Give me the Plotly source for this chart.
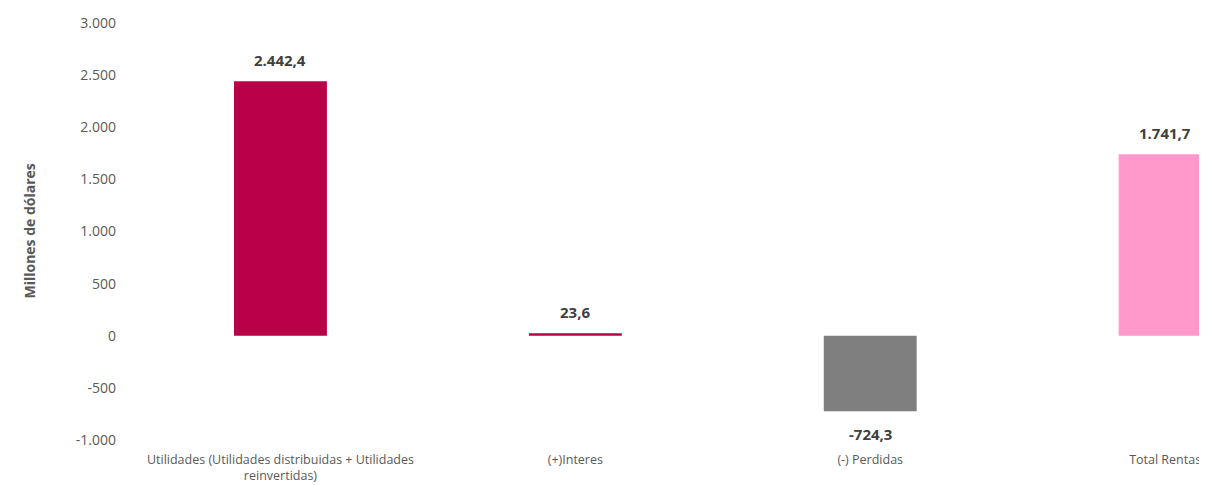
import plotly.graph_objects as go

categories = ["Utilidades (Utilidades distribuidas + Utilidades<br>reinvertidas)",
              "(+)Interes", "(-) Perdidas", "Total Rentas"]
values = [2442.4, 23.6, -724.3, 1741.7]
value_labels = ["2.442,4", "23,6", "-724,3", "1.741,7"]
colors = ["#BA0047", "#BA0047", "#7F7F7F", "#FF99CC"]
y_ticks = [-1000, -500, 0, 500, 1000, 1500, 2000, 2500, 3000]
y_tick_labels = ["-1.000", "-500", "0", "500", "1.000", "1.500", "2.000", "2.500", "3.000"]

FONT = "Open Sans"
W, H = 1199, 477
L, T, B = 124.5, 15, 45

fig = go.Figure(go.Bar(
    x=list(range(len(categories))), y=values,
    marker=dict(color=colors, line=dict(width=0)),
    hoverinfo="skip",
))

for i, (v, lab) in enumerate(zip(values, value_labels)):
    fig.add_annotation(
        x=i, y=v, text="<b>%s</b>" % lab, showarrow=False,
        yshift=21 if v >= 0 else -23,
        font=dict(size=15, color="#404040", family=FONT),
    )

fig.add_annotation(
    xref="paper", yref="paper", x=-(L - 9) / (W - L), y=0.5,
    text="<b>Millones de dólares</b>", textangle=-90, showarrow=False,
    font=dict(size=14, color="#595959", family=FONT),
)

fig.update_layout(
    width=W, height=H,
    margin=dict(l=L, r=0, t=T, b=B, autoexpand=False),
    paper_bgcolor="white", plot_bgcolor="white",
    bargap=0.685,
    showlegend=False,
    font=dict(family=FONT, color="#595959", size=13),
)
fig.update_xaxes(
    tickmode="array", tickvals=list(range(len(categories))), ticktext=categories,
    range=[-0.5, 3.142], showgrid=False, zeroline=False, showline=False,
    tickfont=dict(size=12.5, color="#595959", family=FONT), ticks="",
    automargin=False, ticklabelstandoff=10,
)
fig.update_yaxes(
    range=[-1000, 3000], tickmode="array", tickvals=y_ticks, ticktext=y_tick_labels,
    showgrid=False, zeroline=False, showline=False,
    tickfont=dict(size=14, color="#595959", family=FONT),
    automargin=False, ticks="", ticklabelstandoff=16,
)

fig.write_html("out.html")
